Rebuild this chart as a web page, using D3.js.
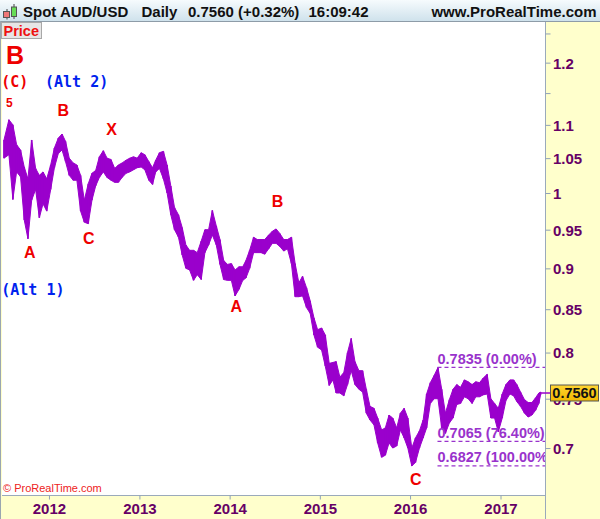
<!DOCTYPE html>
<html><head><meta charset="utf-8">
<script src="https://cdn.jsdelivr.net/npm/d3@7"></script>
<style>body{margin:0;background:#fff}svg{display:block}</style>
</head><body>
<svg id="c" width="600" height="519"></svg>
<script>
// ---- data (half-month ranges) ----
const dates = [
"2011-07-03","2011-07-23","2011-08-08","2011-08-23","2011-09-08","2011-09-23","2011-10-08","2011-10-23","2011-11-08","2011-11-23","2011-12-08","2011-12-23",
"2012-01-08","2012-01-23","2012-02-08","2012-02-23","2012-03-08","2012-03-23","2012-04-08","2012-04-23","2012-05-08","2012-05-23","2012-06-08","2012-06-23",
"2012-07-08","2012-07-23","2012-08-08","2012-08-23","2012-09-08","2012-09-23","2012-10-08","2012-10-23","2012-11-08","2012-11-23","2012-12-08","2012-12-23",
"2013-01-08","2013-01-23","2013-02-08","2013-02-23","2013-03-08","2013-03-23","2013-04-08","2013-04-23","2013-05-08","2013-05-23","2013-06-08","2013-06-23",
"2013-07-08","2013-07-23","2013-08-08","2013-08-23","2013-09-08","2013-09-23","2013-10-08","2013-10-23","2013-11-08","2013-11-23","2013-12-08","2013-12-23",
"2014-01-08","2014-01-23","2014-02-08","2014-02-23","2014-03-08","2014-03-23","2014-04-08","2014-04-23","2014-05-08","2014-05-23","2014-06-08","2014-06-23",
"2014-07-08","2014-07-23","2014-08-08","2014-08-23","2014-09-08","2014-09-23","2014-10-08","2014-10-23","2014-11-08","2014-11-23","2014-12-08","2014-12-23",
"2015-01-08","2015-01-23","2015-02-08","2015-02-23","2015-03-08","2015-03-23","2015-04-08","2015-04-23","2015-05-08","2015-05-23","2015-06-08","2015-06-23",
"2015-07-08","2015-07-23","2015-08-08","2015-08-23","2015-09-08","2015-09-23","2015-10-08","2015-10-23","2015-11-08","2015-11-23","2015-12-08","2015-12-23",
"2016-01-08","2016-01-23","2016-02-08","2016-02-23","2016-03-08","2016-03-23","2016-04-08","2016-04-23","2016-05-08","2016-05-23","2016-06-08","2016-06-23",
"2016-07-08","2016-07-23","2016-08-08","2016-08-23","2016-09-08","2016-09-23","2016-10-08","2016-10-23","2016-11-08","2016-11-23","2016-12-08","2016-12-23",
"2017-01-08","2017-01-23","2017-02-08","2017-02-23","2017-03-08","2017-03-23","2017-04-08","2017-04-23","2017-05-08","2017-05-23","2017-06-05","2017-06-12"
];
const highs = [
1.077,1.108,1.100,1.070,1.062,1.037,1.020,1.077,1.035,1.025,1.030,1.020,
1.040,1.065,1.080,1.086,1.075,1.050,1.043,1.040,1.025,0.990,1.013,1.028,
1.032,1.052,1.061,1.050,1.048,1.035,1.040,1.043,1.047,1.050,1.052,1.050,
1.058,1.055,1.045,1.036,1.047,1.058,1.060,1.040,1.010,0.980,0.970,0.953,
0.930,0.923,0.923,0.920,0.935,0.950,0.950,0.976,0.955,0.937,0.910,0.905,
0.906,0.898,0.902,0.902,0.910,0.923,0.940,0.937,0.937,0.937,0.943,0.948,
0.951,0.945,0.937,0.937,0.940,0.906,0.882,0.890,0.876,0.860,0.840,0.826,
0.828,0.820,0.788,0.789,0.790,0.773,0.778,0.800,0.816,0.790,0.780,0.780,
0.760,0.742,0.740,0.730,0.718,0.720,0.733,0.730,0.720,0.735,0.740,0.730,
0.700,0.710,0.717,0.728,0.755,0.767,0.775,0.7835,0.760,0.735,0.749,0.760,
0.765,0.762,0.770,0.768,0.765,0.768,0.767,0.772,0.776,0.750,0.745,0.740,
0.755,0.765,0.770,0.770,0.765,0.757,0.749,0.746,0.746,0.751,0.756,0.757
];
const lows = [
1.050,1.055,0.991,1.030,1.023,0.963,0.938,0.990,1.005,0.966,0.985,0.975,
1.005,1.036,1.057,1.062,1.045,1.025,1.018,1.018,0.975,0.960,0.958,0.990,
1.010,1.022,1.030,1.022,1.018,1.015,1.015,1.022,1.028,1.030,1.033,1.036,
1.037,1.033,1.018,1.012,1.030,1.035,1.020,1.000,0.970,0.950,0.940,0.917,
0.900,0.898,0.885,0.892,0.886,0.920,0.930,0.943,0.930,0.905,0.886,0.885,
0.885,0.866,0.874,0.885,0.888,0.900,0.920,0.920,0.920,0.918,0.925,0.932,
0.932,0.928,0.922,0.925,0.906,0.865,0.865,0.866,0.852,0.845,0.820,0.806,
0.803,0.785,0.764,0.770,0.756,0.756,0.753,0.765,0.780,0.765,0.760,0.757,
0.735,0.728,0.723,0.705,0.691,0.693,0.705,0.700,0.702,0.718,0.710,0.700,
0.6827,0.686,0.700,0.710,0.720,0.745,0.750,0.750,0.720,0.7145,0.725,0.730,
0.744,0.745,0.752,0.750,0.745,0.752,0.752,0.754,0.755,0.730,0.730,0.716,
0.730,0.748,0.755,0.753,0.747,0.742,0.735,0.731,0.733,0.738,0.745,0.754
];
const yTickValues = [1.25,1.2,1.15,1.1,1.05,1,0.95,0.9,0.85,0.8,0.75,0.7];
const yTickLabels = ["","1.2","","1.1","1.05","1","0.95","0.9","0.85","0.8","0.75","0.7"];
const xTickYears = ["2012","2013","2014","2015","2016","2017"];
const fibLevels = [0.7835, 0.7065, 0.6827];
const fibLabels = ["0.7835 (0.00%)","0.7065 (76.40%)","0.6827 (100.00%)"];
const fibStart = "2016-04-21";
const lastPrice = 0.7560;
// wave labels: [text, date, price, kind]
const waveLabels = [
 ["B","2011-07-11",1.198,"big"],
 ["(C)","2011-06-22",1.160,"mono-red"],
 ["(Alt 2)","2011-12-16",1.160,"mono-blue"],
 ["5","2011-07-11",1.1286,"small"],
 ["B","2012-02-05",1.114,"w"],
 ["X","2012-08-20",1.0845,"w"],
 ["C","2012-05-18",0.9311,"w"],
 ["A","2011-09-22",0.9131,"w"],
 ["(Alt 1)","2011-06-22",0.8665,"mono-blue"],
 ["B","2014-06-20",0.980,"w"],
 ["A","2014-01-05",0.847,"w"],
 ["C","2016-01-01",0.6647,"w"]
];

// ---- layout ----
const svg = d3.select("#c");
const L = 2, R = 545, T = 22, B = 495;
const parse = d3.timeParse("%Y-%m-%d");
const x = d3.scaleTime().domain([new Date(2011,5,25), new Date(2017,5,30)]).range([L, R]);
const y = d3.scaleLog().domain([1.2702, 0.6555]).range([T, B]);
const purple = "#9a00cc", axisCol = "#660066", fibCol = "#9933cc";

const defs = svg.append("defs");
const tg = defs.append("linearGradient").attr("id","tg").attr("x1",0).attr("y1",0).attr("x2",0).attr("y2",1);
tg.append("stop").attr("offset",0).attr("stop-color","#f6fbfd");
tg.append("stop").attr("offset",1).attr("stop-color","#cfe2ec");
const pg = defs.append("linearGradient").attr("id","pg").attr("x1",0).attr("y1",0).attr("x2",0).attr("y2",1);
pg.append("stop").attr("offset",0).attr("stop-color","#ffd633");
pg.append("stop").attr("offset",1).attr("stop-color","#f2b800");
defs.append("clipPath").attr("id","clip").append("rect").attr("x",L).attr("y",T).attr("width",R-L).attr("height",B-T);

// panels
svg.append("rect").attr("x",0).attr("y",0).attr("width",600).attr("height",519).attr("fill","#ffffcc");
svg.append("rect").attr("x",L).attr("y",T).attr("width",R-L).attr("height",B-T).attr("fill","#fff");
svg.append("rect").attr("x",0).attr("y",0).attr("width",600).attr("height",21).attr("fill","url(#tg)");
svg.append("line").attr("x1",0).attr("x2",600).attr("y1",21.5).attr("y2",21.5).attr("stroke","#8e9ca8");
svg.append("line").attr("x1",0.5).attr("x2",0.5).attr("y1",21).attr("y2",519).attr("stroke","#9aa6b0");
svg.append("line").attr("x1",L).attr("x2",R).attr("y1",B+0.5).attr("y2",B+0.5).attr("stroke","#9aaabb");
svg.append("line").attr("x1",R+0.5).attr("x2",R+0.5).attr("y1",T).attr("y2",519).attr("stroke","#9aaabb");

// title
const tf = "'Liberation Sans',Arial,sans-serif";
const title = svg.append("g").attr("font-family",tf).attr("font-weight","bold").attr("font-size",15).attr("fill","#111");
title.append("text").attr("x",23).attr("y",16.5).text("Spot AUD/USD");
title.append("text").attr("x",141.5).attr("y",16.5).text("Daily");
title.append("text").attr("x",188).attr("y",16.5).text("0.7560 (+0.32%)");
title.append("text").attr("x",308.5).attr("y",16.5).text("16:09:42");
title.append("text").attr("x",596.5).attr("y",16.5).attr("text-anchor","end").text("www.ProRealTime.com");
// candle icon
svg.append("line").attr("x1",7).attr("x2",7).attr("y1",9).attr("y2",19.5).attr("stroke","#444");
svg.append("rect").attr("x",3.5).attr("y",11.5).attr("width",6).attr("height",6).attr("fill","#ee7777").attr("stroke","#555");
svg.append("line").attr("x1",14).attr("x2",14).attr("y1",4).attr("y2",19).attr("stroke","#444");
svg.append("rect").attr("x",11.5).attr("y",7).attr("width",5).attr("height",9.5).attr("fill","#66dd55").attr("stroke","#555");

// Price box
svg.append("rect").attr("x",1.5).attr("y",22.5).attr("width",40).attr("height",16).attr("fill","#e6e6e6").attr("stroke","#a8a8a8");
svg.append("text").attr("x",3.5).attr("y",36).attr("font-family",tf).attr("font-weight","bold").attr("font-size",14.5).attr("fill","#ee1111").text("Price");

// y axis
const yAxis = d3.axisLeft(y).tickValues(yTickValues).tickSize(-5).tickFormat((d,i)=>yTickLabels[i]);
const ya = svg.append("g").attr("transform",`translate(${R+0.5},0)`).call(yAxis);
ya.select(".domain").remove();
ya.selectAll(".tick line").attr("stroke","#8fa0b8");
ya.selectAll(".tick text").attr("x",7.5).attr("dy","0.36em").attr("text-anchor","start")
  .attr("font-family",tf).attr("font-weight","bold").attr("font-size",15).attr("fill",axisCol);

// x axis
const yearDates = xTickYears.map(s=>parse(s+"-01-01"));
const xAxis = d3.axisBottom(x).tickValues(yearDates).tickSize(4).tickFormat((d,i)=>xTickYears[i]);
const xa = svg.append("g").attr("transform",`translate(0,${B+0.5})`).call(xAxis);
xa.select(".domain").remove();
xa.selectAll(".tick line").attr("stroke","#8fa0b8");
xa.selectAll(".tick text").attr("y",8).attr("dy","0.71em")
  .attr("font-family",tf).attr("font-weight","bold").attr("font-size",15).attr("fill",axisCol);

// price series
const data = dates.map((d,i)=>({d:parse(d),h:highs[i],l:lows[i]}));
const plot = svg.append("g").attr("clip-path","url(#clip)");
plot.append("path").datum(data)
  .attr("d", d3.area().x(p=>x(p.d)).y0(p=>y(p.l)).y1(p=>y(p.h)))
  .attr("fill",purple).attr("stroke",purple).attr("stroke-width",1);
plot.selectAll("line.bar").data(data).join("line").attr("class","bar")
  .attr("x1",p=>x(p.d)).attr("x2",p=>x(p.d)).attr("y1",p=>y(p.h)).attr("y2",p=>y(p.l))
  .attr("stroke",purple).attr("stroke-width",1.6);

// fib levels
const fx = x(parse(fibStart));
fibLevels.forEach((v,i)=>{
  plot.append("line").attr("x1",fx).attr("x2",R).attr("y1",y(v)).attr("y2",y(v))
    .attr("stroke",fibCol).attr("stroke-width",1.3).attr("stroke-dasharray","4,3");
  plot.append("text").attr("x",fx).attr("y",y(v)-3.5).attr("font-family",tf).attr("font-weight","bold")
    .attr("font-size",14.5).attr("fill",fibCol).text(fibLabels[i]);
});

// wave labels
waveLabels.forEach(([t,d,v,k])=>{
  const el = plot.append("text").attr("x",x(parse(d))).attr("y",y(v)).text(t).attr("font-weight","bold");
  if (k==="big") el.attr("font-family",tf).attr("font-size",25).attr("fill","#ee0000");
  else if (k==="small") el.attr("font-family",tf).attr("font-size",12).attr("fill","#ee0000");
  else if (k==="w") el.attr("font-family",tf).attr("font-size",16).attr("fill","#ee0000");
  else if (k==="mono-red") el.attr("font-family","'DejaVu Sans Mono',monospace").attr("font-size",15).attr("fill","#ee0000");
  else el.attr("font-family","'DejaVu Sans Mono',monospace").attr("font-size",15).attr("fill","#0022ee");
});

// copyright
svg.append("text").attr("x",3).attr("y",492).attr("font-family",tf).attr("font-size",11).attr("fill","#ee2222").text("© ProRealTime.com");

// last price marker and box (the box covers most of the 0.75 tick label, as in the reference)
const ly = y(lastPrice);
const lastD = data[data.length-1].d;
svg.append("line").attr("x1",x(lastD)).attr("x2",551).attr("y1",ly).attr("y2",ly).attr("stroke",purple).attr("stroke-width",1.5);
svg.append("rect").attr("x",550.5).attr("y",ly-8).attr("width",48).attr("height",16).attr("fill","url(#pg)").attr("stroke","#555");
svg.append("text").attr("x",574.5).attr("y",ly+5).attr("text-anchor","middle").attr("font-family",tf).attr("font-weight","bold")
  .attr("font-size",14.5).attr("fill","#111").text("0.7560");
</script>
</body></html>
